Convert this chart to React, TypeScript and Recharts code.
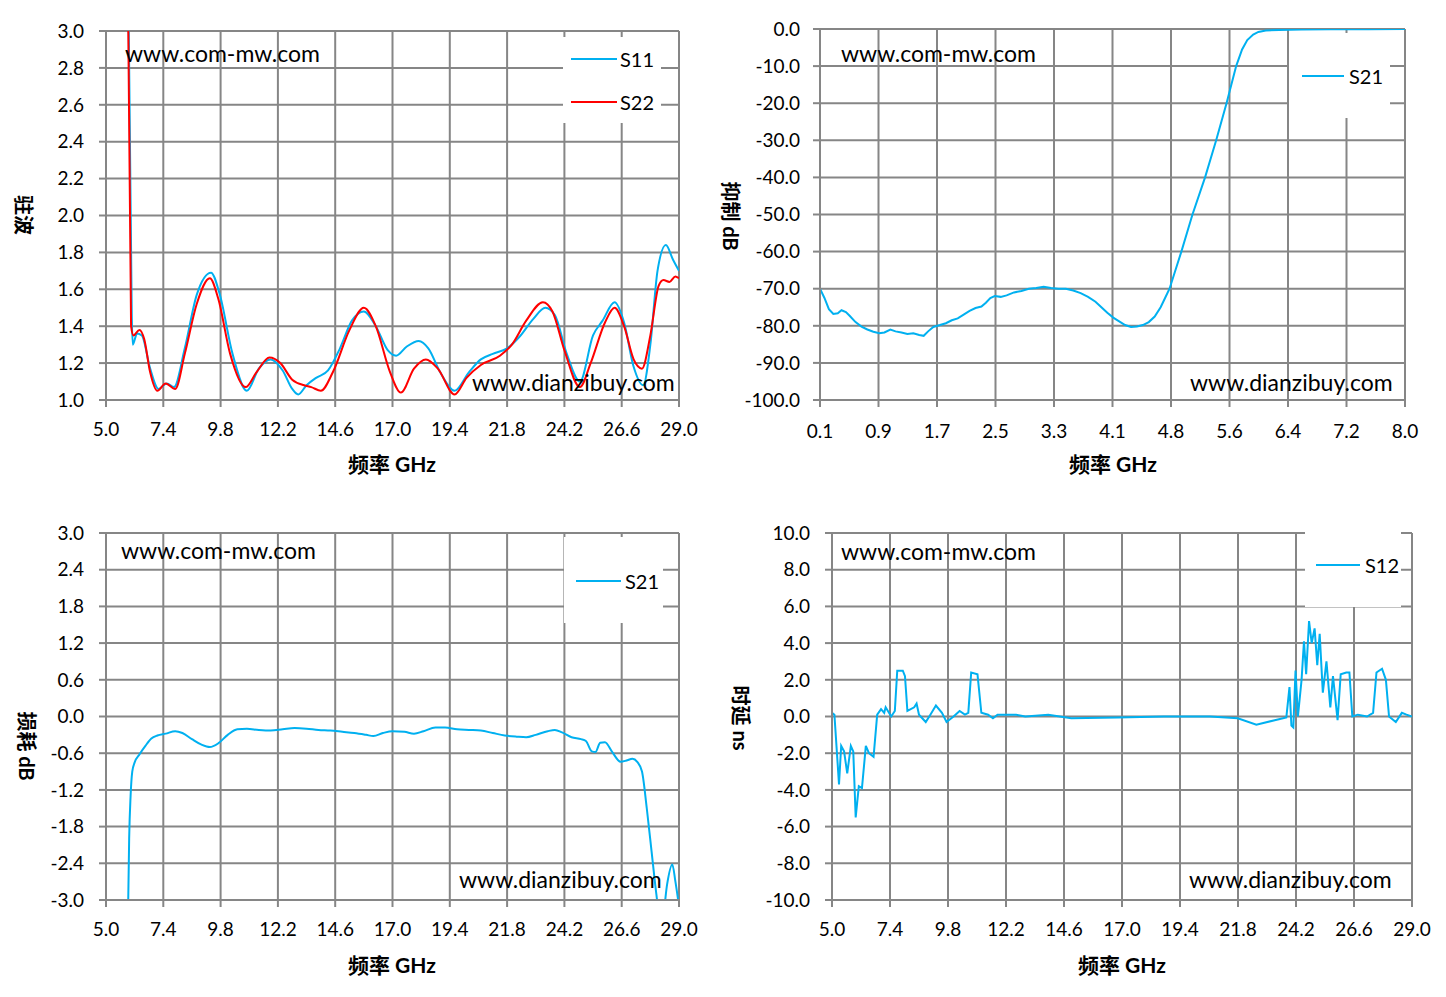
import React from "react";
import { CartesianGrid, Legend, Line, LineChart, XAxis, YAxis } from "recharts";

const BLUE = "#00B0F0";
const RED = "#FF0000";
const GRID = "#868686";
const FONT = "Lato, 'Noto Sans CJK SC', sans-serif";

// ---- chart 1: 驻波 (VSWR), 5-29 GHz
const bandTicks = [5.0, 7.4, 9.8, 12.2, 14.6, 17.0, 19.4, 21.8, 24.2, 26.6, 29.0];
const vswrTicks = [1.0, 1.2, 1.4, 1.6, 1.8, 2.0, 2.2, 2.4, 2.6, 2.8, 3.0];
const s11Freq = [5.95, 6.08, 6.12, 6.3, 6.5, 6.85, 7.2, 7.55, 7.85, 8.3, 8.8, 9.4, 9.75, 10.3, 10.9, 11.4, 11.9, 12.4, 12.8, 13.05, 13.4, 13.8, 14.3, 14.8, 15.3, 15.8, 16.3, 16.8, 17.15, 17.6, 18.1, 18.5, 19.0, 19.6, 20.2, 20.7, 21.2, 21.8, 22.3, 22.9, 23.4, 23.8, 24.3, 24.85, 25.4, 25.8, 26.3, 26.7, 27.1, 27.5, 27.8, 28.1, 28.45, 28.75, 29.0];
const s11Vswr = [3.05, 1.45, 1.3, 1.36, 1.35, 1.17, 1.06, 1.09, 1.07, 1.28, 1.57, 1.69, 1.58, 1.25, 1.05, 1.17, 1.22, 1.16, 1.06, 1.03, 1.08, 1.12, 1.16, 1.28, 1.43, 1.48, 1.4, 1.27, 1.24, 1.29, 1.32, 1.28, 1.15, 1.05, 1.15, 1.22, 1.25, 1.28, 1.34, 1.44, 1.5, 1.46, 1.25, 1.1, 1.35, 1.43, 1.53, 1.42, 1.18, 1.08, 1.3, 1.7, 1.84, 1.76, 1.7];
const s22Freq = [5.93, 6.05, 6.15, 6.4, 6.6, 6.85, 7.15, 7.5, 7.9, 8.3, 8.8, 9.35, 9.7, 10.2, 10.85, 11.3, 11.85, 12.3, 12.8, 13.3, 13.6, 14.0, 14.5, 15.2, 15.8, 16.3, 16.9, 17.35, 17.9, 18.4, 18.9, 19.6, 20.1, 20.7, 21.5, 22.0, 22.6, 23.3, 23.7, 24.2, 24.85, 25.3, 25.9, 26.3, 26.7, 27.1, 27.45, 27.8, 28.15, 28.35, 28.6, 28.85, 29.0];
const s22Vswr = [3.05, 1.4, 1.35, 1.38, 1.33, 1.15, 1.05, 1.09, 1.06, 1.25, 1.52, 1.66, 1.55, 1.25, 1.07, 1.15, 1.23, 1.2, 1.11, 1.08, 1.07, 1.05, 1.15, 1.38, 1.5, 1.4, 1.15, 1.04, 1.17, 1.22, 1.17, 1.03, 1.12, 1.19, 1.24, 1.3, 1.43, 1.53, 1.48, 1.27, 1.07, 1.2, 1.42, 1.5, 1.4, 1.22, 1.17, 1.35, 1.62, 1.65, 1.64, 1.67, 1.66];

// ---- chart 2: 抑制 (rejection), 0.1-8 GHz
const rejTicks = [0.1, 0.89, 1.68, 2.47, 3.26, 4.05, 4.84, 5.63, 6.42, 7.21, 8.0];
const rejTickLabels = ["0.1", "0.9", "1.7", "2.5", "3.3", "4.1", "4.8", "5.6", "6.4", "7.2", "8.0"];
const rejDbTicks = [-100, -90, -80, -70, -60, -50, -40, -30, -20, -10, 0];
const rejFreq = [0.1, 0.16, 0.22, 0.28, 0.34, 0.39, 0.45, 0.5, 0.58, 0.66, 0.74, 0.82, 0.9, 0.97, 1.05, 1.12, 1.2, 1.28, 1.36, 1.44, 1.5, 1.56, 1.63, 1.72, 1.8, 1.88, 1.96, 2.04, 2.12, 2.2, 2.28, 2.34, 2.4, 2.46, 2.54, 2.62, 2.72, 2.82, 2.92, 3.02, 3.12, 3.22, 3.32, 3.42, 3.52, 3.62, 3.72, 3.82, 3.9, 3.98, 4.06, 4.14, 4.22, 4.3, 4.38, 4.46, 4.54, 4.62, 4.7, 4.76, 4.82, 4.98, 5.13, 5.3, 5.45, 5.59, 5.72, 5.8, 5.87, 5.95, 6.02, 6.12, 6.3, 6.6, 7.0, 7.5, 8.0];
const rejDb = [-70, -72.5, -75.5, -76.8, -76.6, -75.8, -76.3, -77.3, -79, -80.2, -81, -81.6, -82, -81.8, -81, -81.5, -81.8, -82.2, -82, -82.5, -82.7, -81.5, -80.3, -79.8, -79.3, -78.5, -78, -77, -76, -75.2, -74.8, -73.8, -72.5, -72, -72.2, -71.8, -71, -70.6, -70, -69.8, -69.5, -69.8, -70, -70, -70.5, -71.2, -72.2, -73.5, -75, -76.5, -77.8, -78.8, -79.8, -80.3, -80.2, -79.8, -79, -77.5, -75, -72.5, -70, -60, -50, -40, -30, -20, -10, -5.5, -3, -1.5, -0.8, -0.4, -0.25, -0.15, -0.1, -0.05, 0];

// ---- chart 3: 损耗 (insertion loss), 5-29 GHz
const lossTicks = [-3.0, -2.4, -1.8, -1.2, -0.6, 0, 0.6, 1.2, 1.8, 2.4, 3.0];
const lossFreq = [5.92, 5.97, 6.03, 6.1, 6.2, 6.4, 6.65, 6.9, 7.15, 7.5, 7.9, 8.2, 8.6, 9.0, 9.35, 9.7, 10.1, 10.5, 10.9, 11.4, 11.9, 12.4, 12.9, 13.4, 13.9, 14.4, 14.9, 15.4, 15.9, 16.2, 16.6, 17.0, 17.5, 17.9, 18.3, 18.8, 19.2, 19.7, 20.2, 20.7, 21.2, 21.7, 22.2, 22.6, 23.0, 23.5, 23.8, 24.1, 24.5, 24.9, 25.1, 25.35, 25.5, 25.7, 25.9, 26.2, 26.55, 26.8, 27.05, 27.25, 27.45, 27.65, 27.85, 28.05, 28.2, 28.35, 28.5, 28.72, 28.85, 29.0];
const lossDb = [-3.3, -2.0, -1.3, -0.9, -0.75, -0.62, -0.48, -0.36, -0.31, -0.28, -0.24, -0.27, -0.37, -0.46, -0.5, -0.44, -0.3, -0.21, -0.2, -0.22, -0.23, -0.21, -0.19, -0.2, -0.22, -0.23, -0.25, -0.27, -0.3, -0.32, -0.27, -0.24, -0.25, -0.28, -0.24, -0.18, -0.18, -0.21, -0.22, -0.23, -0.27, -0.31, -0.33, -0.34, -0.3, -0.24, -0.22, -0.26, -0.34, -0.37, -0.4, -0.57, -0.58, -0.43, -0.42, -0.58, -0.74, -0.72, -0.69, -0.74, -0.9, -1.5, -2.2, -2.9, -3.3, -3.2, -2.75, -2.42, -2.7, -3.1];

// ---- chart 4: 时延 (group delay), 5-29 GHz
const delayTicks = [-10, -8, -6, -4, -2, 0, 2, 4, 6, 8, 10];
const delayFreq = [5.0, 5.1, 5.29, 5.38, 5.5, 5.63, 5.78, 5.88, 5.98, 6.11, 6.24, 6.4, 6.53, 6.72, 6.87, 7.03, 7.16, 7.22, 7.45, 7.6, 7.7, 7.93, 8.02, 8.12, 8.4, 8.5, 8.6, 8.88, 9.07, 9.3, 9.55, 9.74, 10.03, 10.28, 10.5, 10.64, 10.76, 11.02, 11.18, 11.46, 11.66, 11.85, 12.61, 13.0, 13.95, 14.9, 16.82, 18.73, 20.64, 21.79, 22.56, 23.32, 23.8, 23.93, 24.01, 24.09, 24.18, 24.28, 24.43, 24.53, 24.62, 24.74, 24.85, 24.97, 25.08, 25.18, 25.31, 25.46, 25.62, 25.73, 25.92, 26.05, 26.28, 26.41, 26.53, 26.76, 27.14, 27.39, 27.53, 27.76, 27.92, 28.05, 28.33, 28.58, 28.77, 29.0];
const delayNs = [0.2, 0.1, -3.7, -1.6, -1.9, -3.1, -1.6, -1.9, -5.5, -3.8, -3.9, -1.6, -2.0, -2.2, 0.1, 0.4, 0.2, 0.5, 0.0, 0.3, 2.5, 2.5, 2.2, 0.3, 0.5, 0.7, 0.1, -0.3, 0.1, 0.6, 0.2, -0.3, 0.0, 0.3, 0.1, 0.2, 2.4, 2.3, 0.2, 0.1, -0.1, 0.1, 0.1, 0.0, 0.1, -0.1, -0.05, 0.0, 0.0, -0.1, -0.45, -0.2, -0.05, 1.6, -0.5, -0.6, 2.5, 0.0, 2.0, 4.1, 2.3, 5.2, 4.0, 4.8, 2.8, 4.5, 1.3, 3.0, 0.5, 2.2, -0.2, 2.3, 2.4, 2.4, 0.0, 0.1, 0.0, 0.2, 2.4, 2.6, 2.0, 0.0, -0.3, 0.2, 0.1, 0.0];

const pts = (xs: number[], ys: number[]) => xs.map((x, i) => ({ x, y: ys[i] }));
const fixed1 = (v: number) => v.toFixed(1);

type Series = { name: string; color: string; points: { x: number; y: number }[]; curve: "monotone" | "linear" };
type Box = { x: number; y: number; w: number; h: number };

const XAXIS_H = 50;
const TICK = { fill: "#000", fontSize: 19, fontFamily: FONT };

function Panel(p: {
  box: Box;
  plot: { l: number; t: number; r: number; b: number };
  xDomain: [number, number];
  xTicks: number[];
  xFormat: (v: number, i: number) => string;
  yDomain: [number, number];
  yTicks: number[];
  xGap: number;
  yGap: number;
  series: Series[];
  legend: Box & { lineX: number; lineW: number; textX: number; rows: number[] };
}) {
  const { box, plot, legend: lg } = p;
  const margin = { top: plot.t - box.y, right: box.x + box.w - plot.r, bottom: box.y + box.h - plot.b - XAXIS_H, left: 0 };
  const axisStyle = { stroke: GRID, strokeWidth: 2 };
  return (
    <div style={{ position: "absolute", left: box.x, top: box.y }}>
      <LineChart width={box.w} height={box.h} margin={margin}>
        <CartesianGrid stroke={GRID} strokeWidth={2} />
        <XAxis type="number" dataKey="x" domain={p.xDomain} ticks={p.xTicks} interval={0} allowDataOverflow
          height={XAXIS_H} tickFormatter={p.xFormat} tickSize={7} tickMargin={p.xGap}
          axisLine={axisStyle} tickLine={axisStyle} tick={TICK} />
        <YAxis type="number" domain={p.yDomain} ticks={p.yTicks} interval={0} allowDataOverflow
          width={plot.l - box.x} tickFormatter={fixed1} tickSize={7} tickMargin={p.yGap}
          axisLine={axisStyle} tickLine={axisStyle} tick={TICK} />
        <Legend layout="vertical" align="center" verticalAlign="middle"
          wrapperStyle={{ left: lg.x - box.x, top: lg.y - box.y, width: lg.w, height: lg.h, background: "#fff" }}
          content={() => (
            <div style={{ position: "relative", width: lg.w, height: lg.h }}>
              {p.series.map((s, i) => (
                <React.Fragment key={s.name}>
                  <div style={{ position: "absolute", left: lg.lineX, top: lg.rows[i] - 1, width: lg.lineW, height: 2, background: s.color }} />
                  <div style={{ position: "absolute", left: lg.textX, top: lg.rows[i] - 12, height: 24, lineHeight: "24px", fontSize: 20, fontFamily: FONT, color: "#000" }}>{s.name}</div>
                </React.Fragment>
              ))}
            </div>
          )} />
        {p.series.map((s) => (
          <Line key={s.name} data={s.points} dataKey="y" name={s.name} type={s.curve} stroke={s.color}
            strokeWidth={2} dot={false} activeDot={false} legendType="plainline" isAnimationActive={false} />
        ))}
      </LineChart>
    </div>
  );
}

const marks = [
  { x: 125, y: 62 }, { x: 841, y: 62 }, { x: 121, y: 559 }, { x: 841, y: 560 },
];
const marks2 = [
  { x: 472, y: 391 }, { x: 1190, y: 391 }, { x: 459, y: 888 }, { x: 1189, y: 888 },
];
const xTitles = [{ x: 392, y: 472 }, { x: 1113, y: 472 }, { x: 392, y: 973 }, { x: 1122, y: 973 }];
const yTitles = [
  { x: 24, y: 215, t: "驻波" },
  { x: 731, y: 216, t: "抑制 dB" },
  { x: 27, y: 746, t: "损耗 dB" },
  { x: 741, y: 718, t: "时延 ns" },
];

export default function App() {
  return (
    <div style={{ position: "absolute", left: 0, top: 0, width: 1446, height: 997, background: "#fff", fontFamily: FONT }}>
      <Panel
        box={{ x: 0, y: 0, w: 700, h: 490 }} plot={{ l: 106, t: 31, r: 679, b: 400 }}
        xDomain={[5, 29]} xTicks={bandTicks} xFormat={fixed1} yDomain={[1, 3]} yTicks={vswrTicks}
        xGap={16} yGap={15}
        series={[
          { name: "S11", color: BLUE, points: pts(s11Freq, s11Vswr), curve: "monotone" },
          { name: "S22", color: RED, points: pts(s22Freq, s22Vswr), curve: "monotone" },
        ]}
        legend={{ x: 563, y: 37, w: 98, h: 86, lineX: 8, lineW: 46, textX: 57, rows: [22, 65] }}
      />
      <Panel
        box={{ x: 710, y: 0, w: 736, h: 490 }} plot={{ l: 820, t: 29, r: 1405, b: 400 }}
        xDomain={[0.1, 8]} xTicks={rejTicks} xFormat={(_v, i) => rejTickLabels[i]} yDomain={[-100, 0]} yTicks={rejDbTicks}
        xGap={18} yGap={13}
        series={[{ name: "S21", color: BLUE, points: pts(rejFreq, rejDb), curve: "linear" }]}
        legend={{ x: 1289, y: 33, w: 101, h: 85, lineX: 13, lineW: 42, textX: 60, rows: [43] }}
      />
      <Panel
        box={{ x: 0, y: 500, w: 700, h: 497 }} plot={{ l: 106, t: 533, r: 679, b: 900 }}
        xDomain={[5, 29]} xTicks={bandTicks} xFormat={fixed1} yDomain={[-3, 3]} yTicks={lossTicks}
        xGap={16} yGap={15}
        series={[{ name: "S21", color: BLUE, points: pts(lossFreq, lossDb), curve: "monotone" }]}
        legend={{ x: 564, y: 537, w: 99, h: 86, lineX: 12, lineW: 45, textX: 61, rows: [44] }}
      />
      <Panel
        box={{ x: 710, y: 500, w: 736, h: 497 }} plot={{ l: 832, t: 533, r: 1412, b: 900 }}
        xDomain={[5, 29]} xTicks={bandTicks} xFormat={fixed1} yDomain={[-10, 10]} yTicks={delayTicks}
        xGap={16} yGap={15}
        series={[{ name: "S12", color: BLUE, points: pts(delayFreq, delayNs), curve: "linear" }]}
        legend={{ x: 1305, y: 531, w: 96, h: 76, lineX: 11, lineW: 44, textX: 60, rows: [34] }}
      />
      <svg width={1446} height={997} style={{ position: "absolute", left: 0, top: 0, pointerEvents: "none" }}>
        {marks.map((m, i) => (
          <text key={"a" + i} x={m.x} y={m.y} fontSize={23} fontFamily={FONT} fill="#000">www.com-mw.com</text>
        ))}
        {marks2.map((m, i) => (
          <text key={"b" + i} x={m.x} y={m.y} fontSize={23} fontFamily={FONT} fill="#000">www.dianzibuy.com</text>
        ))}
        {xTitles.map((m, i) => (
          <text key={"x" + i} x={m.x} y={m.y} fontSize={21} fontWeight="bold" fontFamily={FONT} textAnchor="middle" fill="#000">频率 GHz</text>
        ))}
        {yTitles.map((m, i) => (
          <text key={"y" + i} transform={`translate(${m.x},${m.y}) rotate(90)`} fontSize={20} fontWeight="bold"
            fontFamily={FONT} textAnchor="middle" dominantBaseline="central" fill="#000">{m.t}</text>
        ))}
      </svg>
    </div>
  );
}
